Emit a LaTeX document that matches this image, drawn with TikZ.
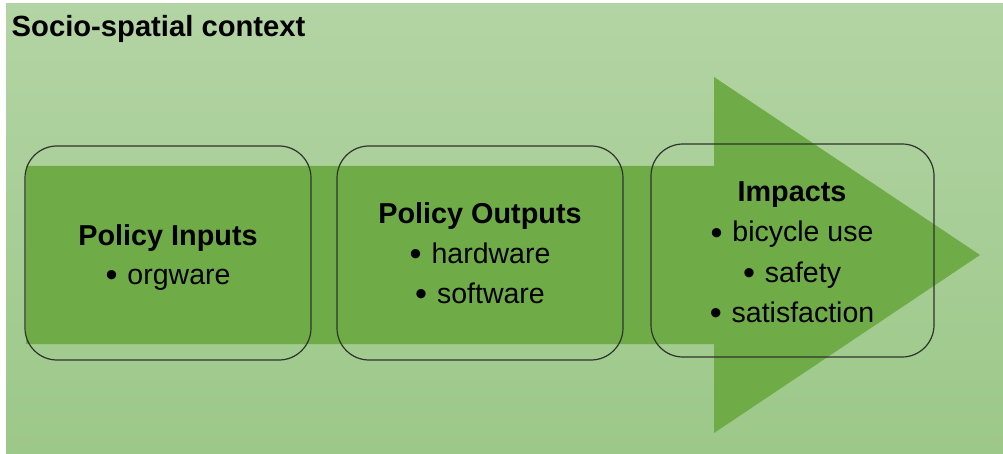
\documentclass[tikz,border=0pt]{standalone}
\usepackage{fontspec}
\setmainfont{Liberation Sans}
\definecolor{bgtop}{HTML}{B3D4A4}
\definecolor{bgbot}{HTML}{9CC889}
\definecolor{arrowgreen}{HTML}{6FAC47}
\definecolor{boxline}{HTML}{2E332B}
\newcommand{\bul}{\raisebox{-2.5pt}{\scalebox{1.2}{•}}\hspace{0.35em}}
\begin{document}
\begin{tikzpicture}[x=1pt,y=-1pt,
  stagebox/.style={draw=boxline,line width=1.2pt,rounded corners=32pt,inner sep=0pt},
  head/.style={anchor=base,inner sep=0pt,font=\fontsize{28.8}{34}\selectfont\bfseries},
  item/.style={anchor=base,inner sep=0pt,font=\fontsize{28.5}{34}\selectfont}]
\useasboundingbox (0,0) rectangle (1003,454);
\fill[white] (0,0) rectangle (1003,454);
\shade[top color=bgtop,bottom color=bgbot] (6,4) rectangle (1003,454);
% big arrow
\fill[arrowgreen] (26,166) -- (714,166) -- (714,77) -- (980,255) -- (714,433) -- (714,344) -- (26,344) -- cycle;
% title
\node[anchor=base west,inner sep=0pt,font=\fontsize{29.2}{34}\selectfont\bfseries] (title) at (11.5,37) {Socio-spatial context};
% boxes
\node[stagebox,minimum width=286pt,minimum height=214pt] (inputs) at (168,253) {};
\node[stagebox,minimum width=286pt,minimum height=214pt] (outputs) at (480,253) {};
\node[stagebox,minimum width=283pt,minimum height=213pt] (impacts) at (792.5,250.5) {};
% texts
\node[head] (t1) at (168,245) {Policy Inputs};
\node[item] (t1a) at (168,284) {\bul orgware};
\node[head] (t2) at (480,224) {Policy Outputs};
\node[item] (t2a) at (480,263) {\bul hardware};
\node[item] (t2b) at (480,303) {\bul software};
\node[head] (t3) at (792,202) {Impacts};
\node[item] (t3a) at (792,242) {\bul bicycle use};
\node[item] (t3b) at (792,282) {\bul safety};
\node[item] (t3c) at (792,322) {\bul satisfaction};
\end{tikzpicture}
\end{document}
